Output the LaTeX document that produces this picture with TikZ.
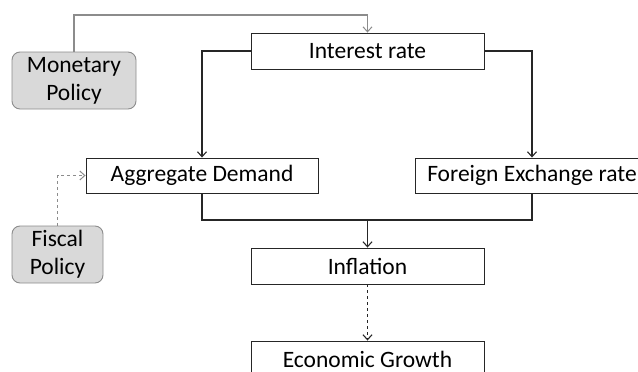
\documentclass[tikz,border=0pt]{standalone}
\usepackage{fontspec}
\setmainfont{Carlito}
\usepackage{tikz}
\usetikzlibrary{arrows.meta,positioning,calc}
\usepackage{xcolor}
\definecolor{policyfill}{HTML}{D9D9D9}
\definecolor{policyline}{HTML}{8C8C8C}

\tikzset{
  flowbox/.style={draw=black!85,line width=0.9pt,fill=white,inner sep=0pt,
    minimum width=233pt,minimum height=36pt,font=\fontsize{23.5}{28}\selectfont},
  policybox/.style={draw=policyline,line width=0.9pt,fill=policyfill,rounded corners=8pt,
    inner sep=0pt,minimum height=57pt,align=center,font=\fontsize{23.5}{28}\selectfont},
  link/.style={draw=black!85,line width=1.3pt,-{Straight Barb[length=5pt,width=9pt,line width=1.1pt]}},
  policylink/.style={draw=policyline,line width=1.1pt,-{Straight Barb[length=5pt,width=9pt,line width=1pt]}},
}

\begin{document}
\begin{tikzpicture}[x=1pt,y=-1pt]
\useasboundingbox (0,0) rectangle (638,372);
\clip (0,0) rectangle (638,372);
% boxes
\node[flowbox] (rate) at (367.5,51) {Interest rate};
\node[flowbox,minimum width=232pt,minimum height=35pt] (demand) at (202,175.5) {Aggregate Demand};
\node[flowbox,minimum width=234pt,minimum height=35pt] (exchange) at (532,175.5) {Foreign Exchange rate};
\node[flowbox] (inflation) at (367.5,266) {Inflation};
\node[flowbox] (growth) at (367.5,359) {Economic Growth};
\node[policybox,minimum width=124pt] (monetary) at (74,80.5) {Monetary\\Policy};
\node[policybox,minimum width=91pt] (fiscal) at (57.5,254.5) {Fiscal\\Policy};
% connectors
\coordinate (bend) at (367.5,15);
\coordinate (merge) at (367.5,220);
\draw[policylink] (monetary.north) |- (bend) -- (rate.north);
\draw[link] (rate.west) -| (demand.north);
\draw[link] (rate.east) -| (exchange.north);
\draw[draw=black!85,line width=1.3pt] (demand.south) |- (merge) -| (exchange.south);
\draw[link] (merge) -- (inflation.north);
\draw[link,dashed] (inflation.south) -- (growth.north);
\draw[policylink,dashed] (fiscal.north) |- (demand.west);
\end{tikzpicture}
\end{document}
